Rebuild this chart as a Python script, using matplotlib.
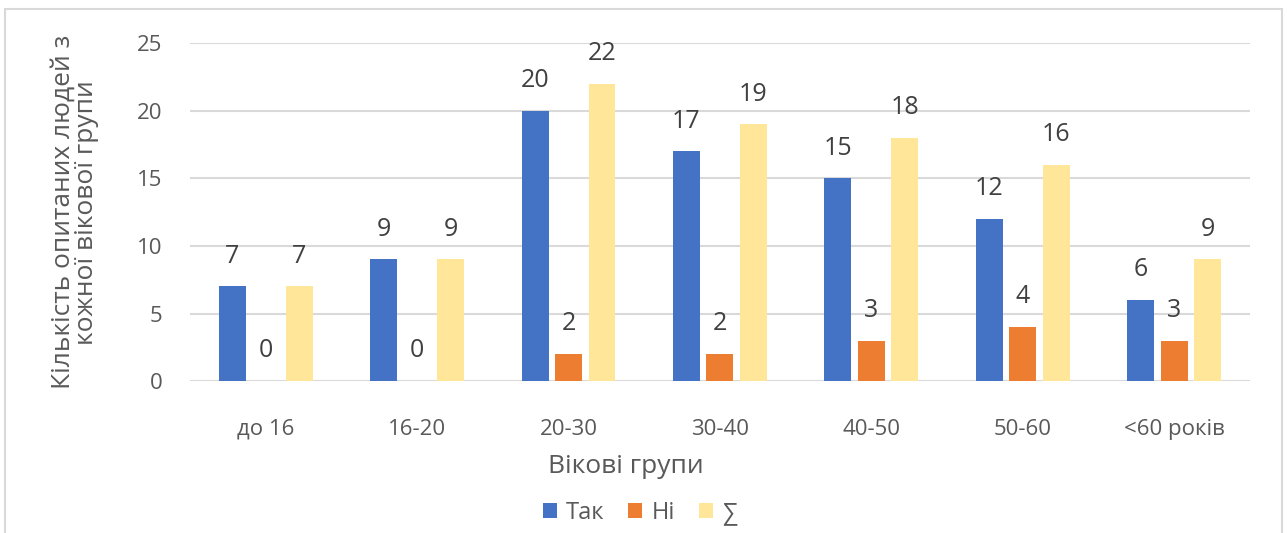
import numpy as np
import matplotlib.pyplot as plt
from matplotlib.patches import Rectangle

plt.rcParams['font.family'] = ['Open Sans', 'DejaVu Sans']

# data
groups = ['до 16', '16-20', '20-30', '30-40', '40-50', '50-60', '<60 років']
yes = [7, 9, 20, 17, 15, 12, 6]
no = [0, 0, 2, 2, 3, 4, 3]
total = [7, 9, 22, 19, 18, 16, 9]
series_names = ['Так', 'Ні', '∑']
colors = ['#4472C4', '#ED7D31', '#FFE699']
text_color = '#595959'

fig = plt.figure(figsize=(12.87, 5.33), dpi=100)
ax = fig.add_axes([0.1476, 0.285, 0.8236, 0.634])

# figure border (bottom cut off like in the screenshot)
fig.patches.append(Rectangle((5 / 1287, -0.1), 1277 / 1287, 1.1 - 9 / 533,
                             transform=fig.transFigure, fill=False,
                             edgecolor='#d9d9d9', linewidth=1.5))

x = np.arange(len(groups))
step = 0.221
width = 0.178
for i, (vals, name, c) in enumerate(zip([yes, no, total], series_names, colors)):
    bars = ax.bar(x + (i - 1) * step, vals, width, color=c, label=name, zorder=3)
    for b, v in zip(bars, vals):
        # value labels above each bar
        ax.annotate(str(v), (b.get_x() + b.get_width() / 2, v), xytext=(0, 17),
                    textcoords='offset points', ha='center', va='baseline',
                    fontsize=18, color='#404040')

ax.set_xlim(-0.5, len(groups) - 0.5)
ax.set_ylim(0, 25)
ax.set_yticks(range(0, 26, 5))
ax.set_xticks(x)
ax.set_xticklabels(groups)
ax.tick_params(axis='both', length=0, labelsize=16, labelcolor=text_color)
ax.tick_params(axis='y', pad=20)
ax.tick_params(axis='x', pad=27)
ax.grid(axis='y', color='#d9d9d9', linewidth=1.5, zorder=0)
for s in ax.spines.values():
    s.set_visible(False)

# axis titles are centred on the chart area, not on the plot area
ax.set_xlabel('Вікові групи', fontsize=19, color=text_color)
ax.xaxis.set_label_coords(0.411, -0.2515)
ax.xaxis.label.set_va('center')
ax.set_ylabel('Кількість опитаних людей з\nкожної вікової групи', fontsize=19,
              color=text_color, linespacing=0.93)
ax.yaxis.set_label_coords(-0.1085, 0.5)
ax.yaxis.label.set_va('center')

leg = ax.legend(loc='center', bbox_to_anchor=(0.4245, -0.39), ncol=3, frameon=False,
                fontsize=17, handlelength=0.6, handleheight=0.6, handletextpad=0.4,
                columnspacing=1.0)
for t in leg.get_texts():
    t.set_color(text_color)

fig.savefig('out.png', dpi=100, facecolor='white')
